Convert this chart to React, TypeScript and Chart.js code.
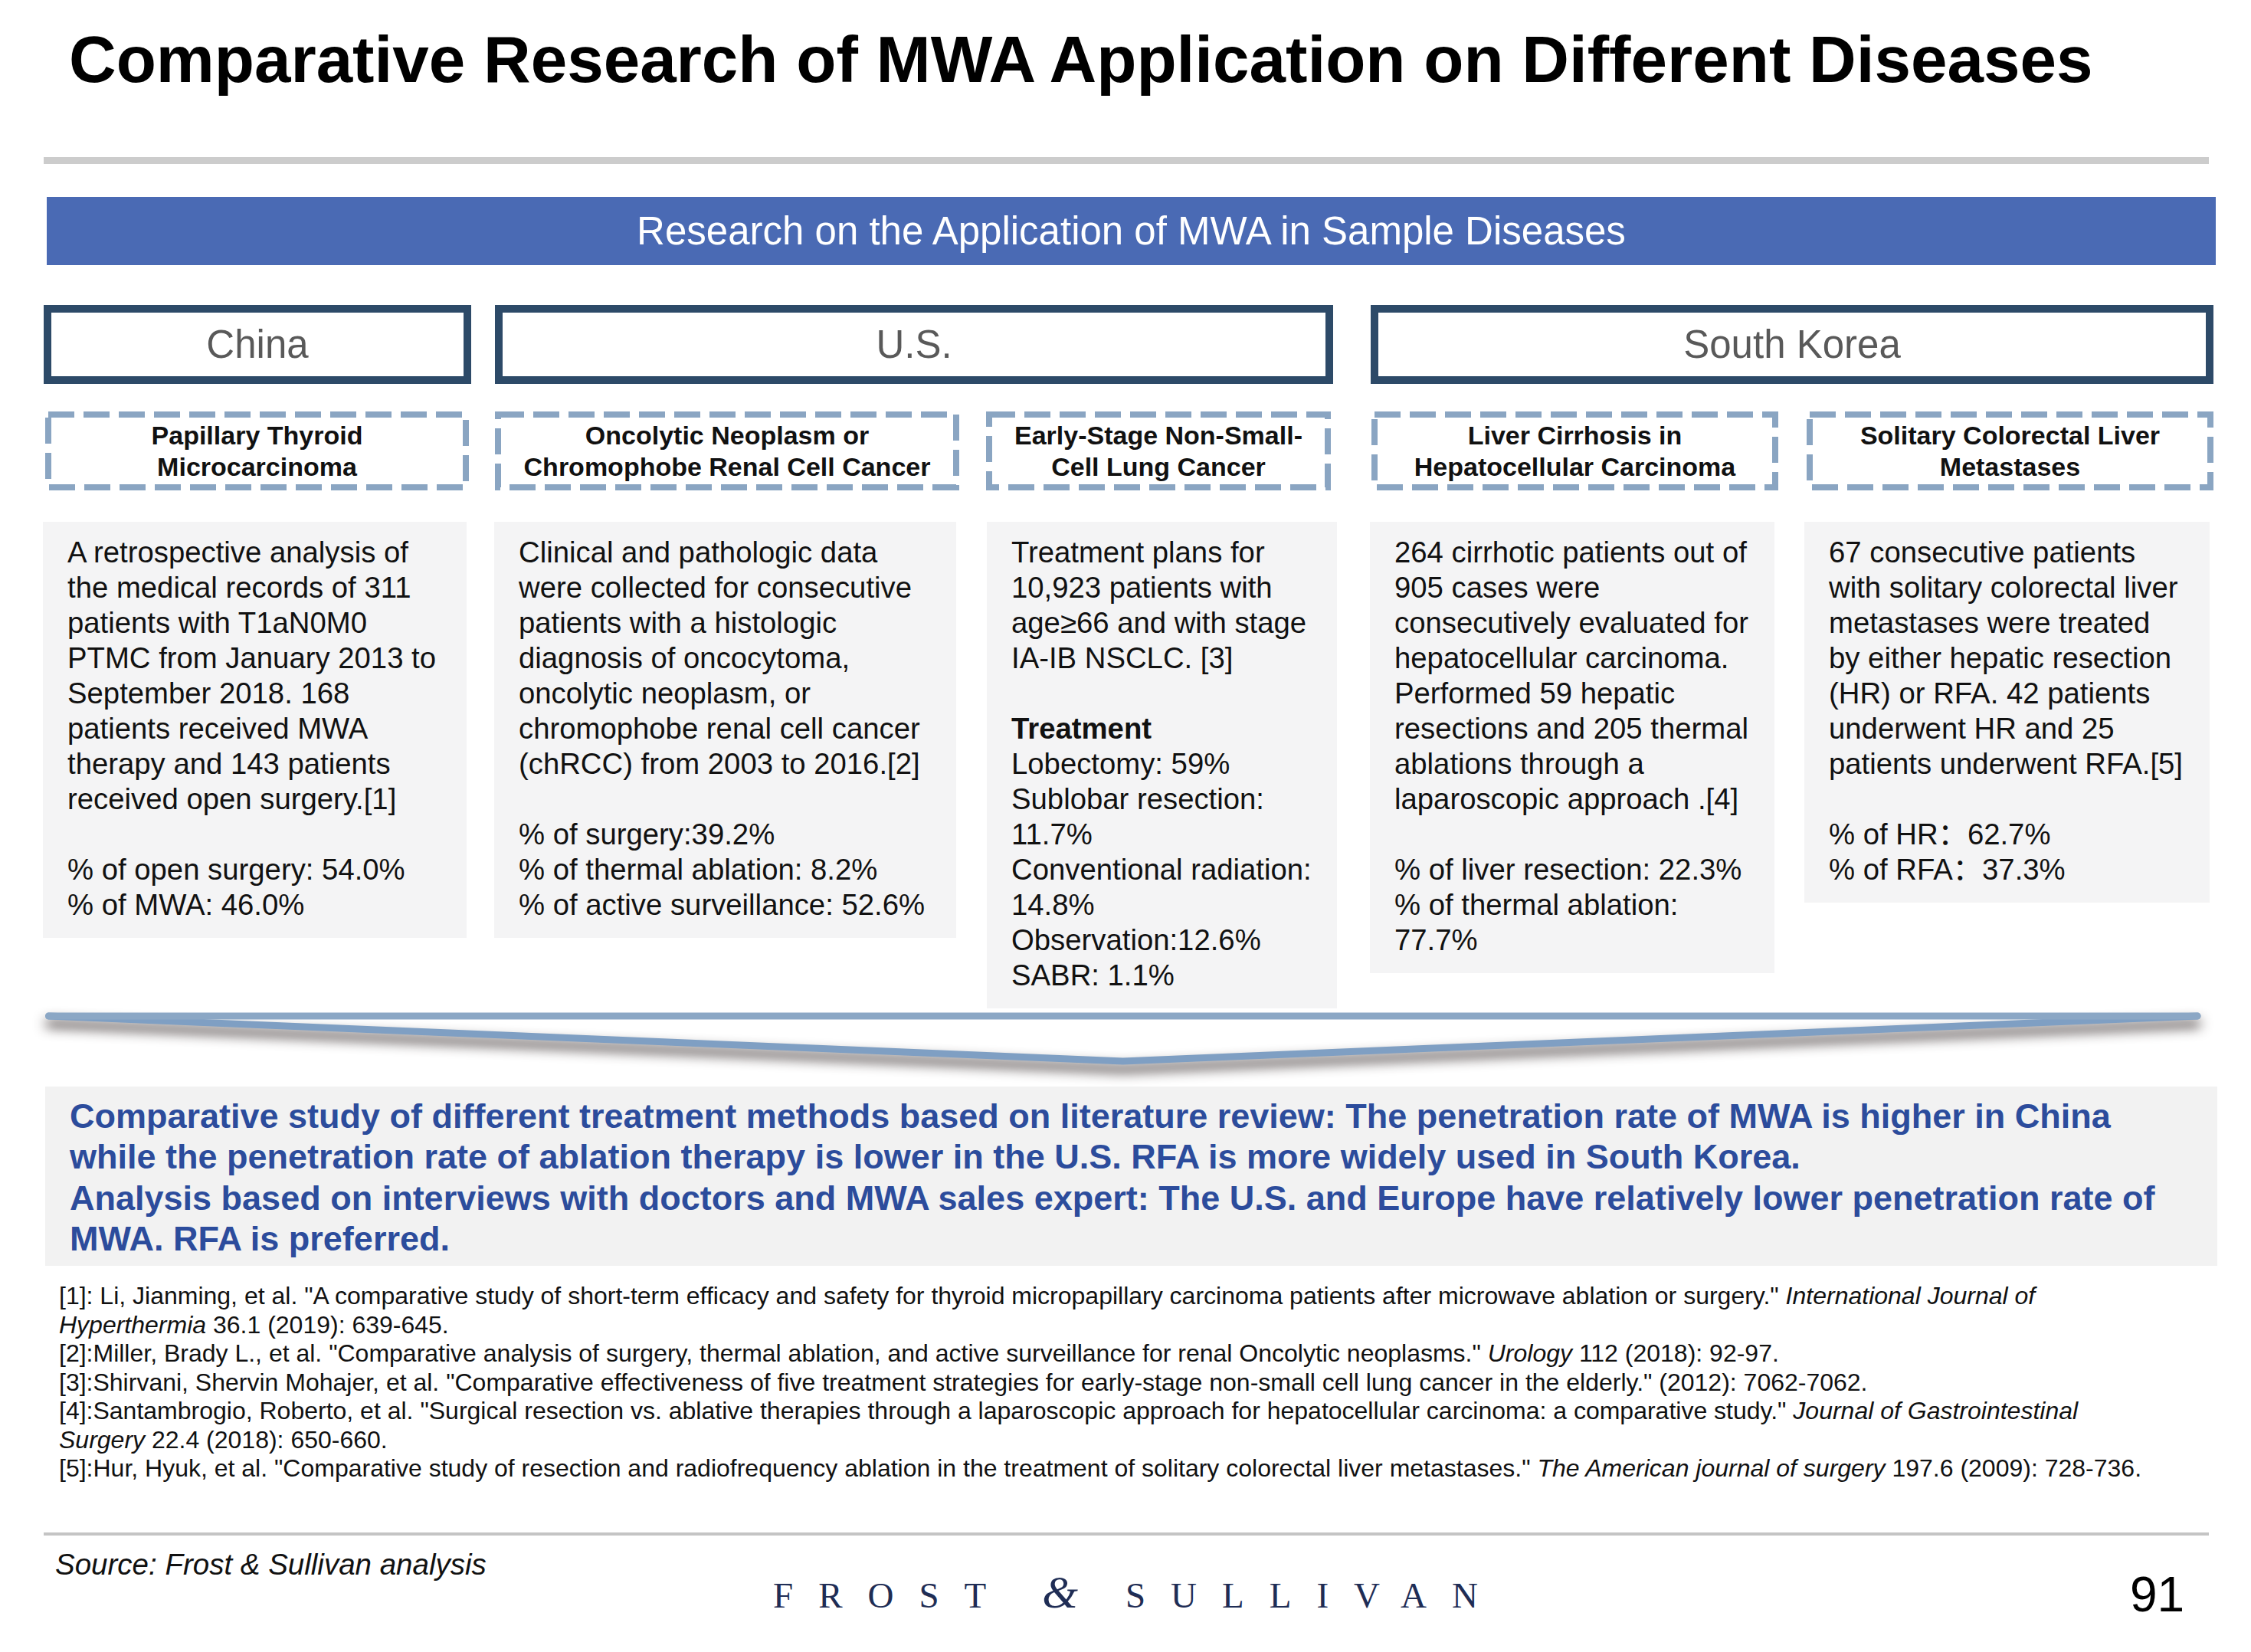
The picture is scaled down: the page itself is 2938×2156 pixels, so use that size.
import React, { useEffect, useRef } from "react";
import { Chart, registerables } from "chart.js";

Chart.register(...registerables);

// ---------- content ----------
const TITLE = "Comparative Research of MWA Application on Different Diseases";
const BANNER = "Research on the Application of MWA in Sample Diseases";
const countries = ["China", "U.S.", "South Korea"];
const diseases = [
  ["Papillary Thyroid", "Microcarcinoma"],
  ["Oncolytic Neoplasm or", "Chromophobe Renal Cell Cancer"],
  ["Early-Stage Non-Small-", "Cell Lung Cancer"],
  ["Liver Cirrhosis in", "Hepatocellular Carcinoma"],
  ["Solitary Colorectal Liver", "Metastases"],
];
const chinaThyroid = [
  "A retrospective analysis of",
  "the medical records of 311",
  "patients with T1aN0M0",
  "PTMC from January 2013 to",
  "September 2018. 168",
  "patients received MWA",
  "therapy and 143 patients",
  "received open surgery.[1]",
  "",
  "% of open surgery: 54.0%",
  "% of MWA: 46.0%",
];
const usRenal = [
  "Clinical and pathologic data",
  "were collected for consecutive",
  "patients with a histologic",
  "diagnosis of oncocytoma,",
  "oncolytic neoplasm, or",
  "chromophobe renal cell cancer",
  "(chRCC) from 2003 to 2016.[2]",
  "",
  "% of surgery:39.2%",
  "% of thermal ablation: 8.2%",
  "% of active surveillance: 52.6%",
];
const usLung = [
  "Treatment plans for",
  "10,923 patients with",
  "age≥66 and with stage",
  "IA-IB NSCLC. [3]",
  "",
  "Treatment",
  "Lobectomy: 59%",
  "Sublobar resection:",
  "11.7%",
  "Conventional radiation:",
  "14.8%",
  "Observation:12.6%",
  "SABR: 1.1%",
];
const koreaLiver = [
  "264 cirrhotic patients out of",
  "905 cases were",
  "consecutively evaluated for",
  "hepatocellular carcinoma.",
  "Performed 59 hepatic",
  "resections and 205 thermal",
  "ablations through a",
  "laparoscopic approach .[4]",
  "",
  "% of liver resection: 22.3%",
  "% of thermal ablation:",
  "77.7%",
];
const koreaColorectal = [
  "67 consecutive patients",
  "with solitary colorectal liver",
  "metastases were treated",
  "by either hepatic resection",
  "(HR) or RFA. 42 patients",
  "underwent HR and 25",
  "patients underwent RFA.[5]",
  "",
  "% of HR：62.7%",
  "% of RFA：37.3%",
];
const boldLines = ["Treatment"];
const summaryLines = [
  "Comparative study of different treatment methods based on literature review: The penetration rate of MWA is higher in China",
  "while the penetration rate of ablation therapy is lower in the U.S. RFA is more widely used in South Korea.",
  "Analysis based on interviews with doctors and MWA sales expert: The U.S. and Europe have relatively lower penetration rate of",
  "MWA. RFA is preferred.",
];
// reference segments: [text, italic]
const references: [string, boolean][][] = [
  [["[1]: Li, Jianming, et al. \"A comparative study of short-term efficacy and safety for thyroid micropapillary carcinoma patients after microwave ablation or surgery.\" ", false], ["International Journal of", true]],
  [["Hyperthermia", true], [" 36.1 (2019): 639-645.", false]],
  [["[2]:Miller, Brady L., et al. \"Comparative analysis of surgery, thermal ablation, and active surveillance for renal Oncolytic neoplasms.\" ", false], ["Urology", true], [" 112 (2018): 92-97.", false]],
  [["[3]:Shirvani, Shervin Mohajer, et al. \"Comparative effectiveness of five treatment strategies for early-stage non-small cell lung cancer in the elderly.\" (2012): 7062-7062.", false]],
  [["[4]:Santambrogio, Roberto, et al. \"Surgical resection vs. ablative therapies through a laparoscopic approach for hepatocellular carcinoma: a comparative study.\" ", false], ["Journal of Gastrointestinal", true]],
  [["Surgery", true], [" 22.4 (2018): 650-660.", false]],
  [["[5]:Hur, Hyuk, et al. \"Comparative study of resection and radiofrequency ablation in the treatment of solitary colorectal liver metastases.\" ", false], ["The American journal of surgery", true], [" 197.6 (2009): 728-736.", false]],
];
const SOURCE = "Source: Frost & Sullivan analysis";
const PAGE = "91";
const logoLeft = "FROST";
const logoAmp = "&";
const logoRight = "SULLIVAN";

// chevron divider (drawn with Chart.js)
const chevronX = [0, 50, 100];
const chevronTopEdge = [0, 0, 0];
const chevronBottomEdge = [0, -1, 0];

// ---------- style ----------
const FONT = '"Liberation Sans", Arial, Helvetica, "Noto Sans CJK SC", sans-serif';
const SERIF = '"Liberation Serif", "DejaVu Serif", Times, serif';
const BLUE_BANNER = "#4a6ab4";
const DARK_BORDER = "#2d4a68";
const DASH = "#8aa5c2";
const BOX_BG = "#f4f4f5";
const SUMMARY_BLUE = "#2c4c9c";

const topFor = (baseline: number, fs: number, lh: number) =>
  baseline - ((lh - 1.117 * fs) / 2 + 0.905 * fs);

const countryBoxes = [
  [57, 615],
  [646, 1740],
  [1789, 2889],
];
const dashBoxes = [
  [59, 612],
  [646, 1252],
  [1287, 1737],
  [1790, 2321],
  [2358, 2889],
];
const contentBoxes = [
  [56, 609],
  [645, 1248],
  [1288, 1745],
  [1788, 2316],
  [2355, 2884],
];
const contentTexts = [chinaThyroid, usRenal, usLung, koreaLiver, koreaColorectal];

function Chevron() {
  const ref = useRef<HTMLCanvasElement | null>(null);
  useEffect(() => {
    if (!ref.current) return;
    const shadowPlugin = {
      id: "chevShadow",
      beforeDatasetDraw(chart: any, args: any) {
        if (args.index === 1) {
          const ctx = chart.ctx;
          ctx.save();
          ctx.shadowColor = "rgba(50,40,40,0.9)";
          ctx.shadowBlur = 16;
          ctx.shadowOffsetY = 10;
        }
      },
      afterDatasetDraw(chart: any, args: any) {
        if (args.index === 1) chart.ctx.restore();
      },
    };
    const chart = new Chart(ref.current, {
      type: "line",
      data: {
        datasets: [
          {
            data: chevronX.map((x, i) => ({ x, y: chevronTopEdge[i] })),
            borderColor: "#8ba7c5",
            borderWidth: 9,
            pointRadius: 0,
            borderCapStyle: "round",
            fill: false,
            clip: false,
            tension: 0,
          },
          {
            data: chevronX.map((x, i) => ({ x, y: chevronBottomEdge[i] })),
            borderColor: "#7f9fc3",
            borderWidth: 9,
            pointRadius: 0,
            borderCapStyle: "round",
            borderJoinStyle: "round",
            fill: "-1",
            backgroundColor: "#ffffff",
            clip: false,
            tension: 0,
          },
        ],
      } as any,
      options: {
        animation: false,
        responsive: false,
        events: [],
        layout: { padding: { left: 23.5, right: 28, top: 26, bottom: 35 } },
        scales: {
          x: { type: "linear", min: 0, max: 100, display: false },
          y: { type: "linear", min: -1, max: 0, display: false },
        },
        plugins: { legend: { display: false }, tooltip: { enabled: false } },
      } as any,
      plugins: [shadowPlugin],
    });
    return () => chart.destroy();
  }, []);
  return (
    <canvas
      ref={ref}
      width={2856}
      height={120}
      style={{ position: "absolute", left: 40, top: 1300, width: 2856, height: 120 }}
    />
  );
}

function DashedBox({ x0, x1, lines }: { x0: number; x1: number; lines: string[] }) {
  const w = x1 - x0;
  const h = 103;
  return (
    <div
      style={{
        position: "absolute",
        left: x0,
        top: 537,
        width: w,
        height: h,
        display: "flex",
        alignItems: "center",
        justifyContent: "center",
      }}
    >
      <svg width={w} height={h} style={{ position: "absolute", left: 0, top: 0 }}>
        <rect
          x={4}
          y={4}
          width={w - 8}
          height={h - 8}
          fill="#ffffff"
          stroke={DASH}
          strokeWidth={8}
          strokeDasharray="34 12"
        />
      </svg>
      <div
        style={{
          position: "relative",
          fontFamily: FONT,
          fontWeight: 700,
          fontSize: 34,
          lineHeight: "41px",
          textAlign: "center",
          color: "#111",
          whiteSpace: "nowrap",
        }}
      >
        {lines.map((l, i) => (
          <div key={i}>{l}</div>
        ))}
      </div>
    </div>
  );
}

export default function App() {
  return (
    <div
      style={{
        position: "absolute",
        left: 0,
        top: 0,
        width: 2938,
        height: 2156,
        background: "#ffffff",
        overflow: "hidden",
        fontFamily: FONT,
        color: "#111",
      }}
    >
      {/* title */}
      <div
        style={{
          position: "absolute",
          left: 90,
          top: topFor(108, 85.4, 100),
          fontSize: 85.4,
          lineHeight: "100px",
          fontWeight: 700,
          color: "#000",
          whiteSpace: "nowrap",
        }}
      >
        {TITLE}
      </div>
      {/* top rule */}
      <div style={{ position: "absolute", left: 57, top: 205, width: 2826, height: 9, background: "#cccccc" }} />

      {/* banner */}
      <div
        style={{
          position: "absolute",
          left: 61,
          top: 257,
          width: 2831,
          height: 89,
          background: BLUE_BANNER,
          color: "#ffffff",
          display: "flex",
          alignItems: "center",
          justifyContent: "center",
          fontSize: 51,
          lineHeight: "60px",
          whiteSpace: "nowrap",
        }}
      >
        {BANNER}
      </div>

      {/* countries */}
      {countries.map((c, i) => (
        <div
          key={c}
          style={{
            position: "absolute",
            left: countryBoxes[i][0],
            top: 398,
            width: countryBoxes[i][1] - countryBoxes[i][0],
            height: 103,
            boxSizing: "border-box",
            border: `10px solid ${DARK_BORDER}`,
            background: "#ffffff",
            color: "#595959",
            fontSize: 51,
            lineHeight: "60px",
            display: "flex",
            alignItems: "center",
            justifyContent: "center",
          }}
        >
          {c}
        </div>
      ))}

      {/* disease dashed boxes */}
      {diseases.map((d, i) => (
        <DashedBox key={i} x0={dashBoxes[i][0]} x1={dashBoxes[i][1]} lines={d} />
      ))}

      {/* content boxes */}
      {contentTexts.map((lines, i) => (
        <div
          key={i}
          style={{
            position: "absolute",
            left: contentBoxes[i][0],
            top: 681,
            width: contentBoxes[i][1] - contentBoxes[i][0],
            boxSizing: "border-box",
            padding: "17px 10px 20px 32px",
            background: BOX_BG,
            fontSize: 38.3,
            lineHeight: "46px",
            color: "#111",
            whiteSpace: "nowrap",
          }}
        >
          {lines.map((l, j) => (
            <div key={j} style={{ height: 46, fontWeight: boldLines.includes(l) ? 700 : 400 }}>
              {l}
            </div>
          ))}
        </div>
      ))}

      {/* chevron */}
      <Chevron />

      {/* summary */}
      <div
        style={{
          position: "absolute",
          left: 59,
          top: 1418,
          width: 2835,
          height: 234,
          boxSizing: "border-box",
          padding: "12px 0 0 32px",
          background: "#f2f2f2",
          color: SUMMARY_BLUE,
          fontWeight: 700,
          fontSize: 45,
          lineHeight: "53.3px",
          whiteSpace: "nowrap",
        }}
      >
        {summaryLines.map((l, i) => (
          <div key={i}>{l}</div>
        ))}
      </div>

      {/* references */}
      <div
        style={{
          position: "absolute",
          left: 77,
          top: topFor(1703, 32, 37.5),
          fontSize: 32,
          lineHeight: "37.5px",
          color: "#111",
          whiteSpace: "nowrap",
        }}
      >
        {references.map((segs, i) => (
          <div key={i}>
            {segs.map(([t, it], j) => (
              <span key={j} style={{ fontStyle: it ? "italic" : "normal" }}>
                {t}
              </span>
            ))}
          </div>
        ))}
      </div>

      {/* bottom rule */}
      <div style={{ position: "absolute", left: 57, top: 2000, width: 2826, height: 4, background: "#c4c4c4" }} />

      {/* source */}
      <div
        style={{
          position: "absolute",
          left: 72,
          top: topFor(2055, 38.5, 44),
          fontSize: 38.5,
          lineHeight: "44px",
          fontStyle: "italic",
          color: "#111",
          whiteSpace: "nowrap",
        }}
      >
        {SOURCE}
      </div>

      {/* logo */}
      <div
        style={{
          position: "absolute",
          left: 1009,
          top: 2048,
          height: 60,
          display: "flex",
          alignItems: "baseline",
          fontFamily: SERIF,
          color: "#1f2d55",
          whiteSpace: "nowrap",
          lineHeight: "60px",
        }}
      >
        <span style={{ fontSize: 47, letterSpacing: 33 }}>{logoLeft}</span>
        <span style={{ fontSize: 60, fontStyle: "italic", marginLeft: 40, marginRight: 62 }}>{logoAmp}</span>
        <span style={{ fontSize: 47, letterSpacing: 33 }}>{logoRight}</span>
      </div>

      {/* page number */}
      <div
        style={{
          position: "absolute",
          left: 2780,
          top: topFor(2103, 64, 74),
          fontSize: 64,
          lineHeight: "74px",
          color: "#000",
        }}
      >
        {PAGE}
      </div>
    </div>
  );
}
